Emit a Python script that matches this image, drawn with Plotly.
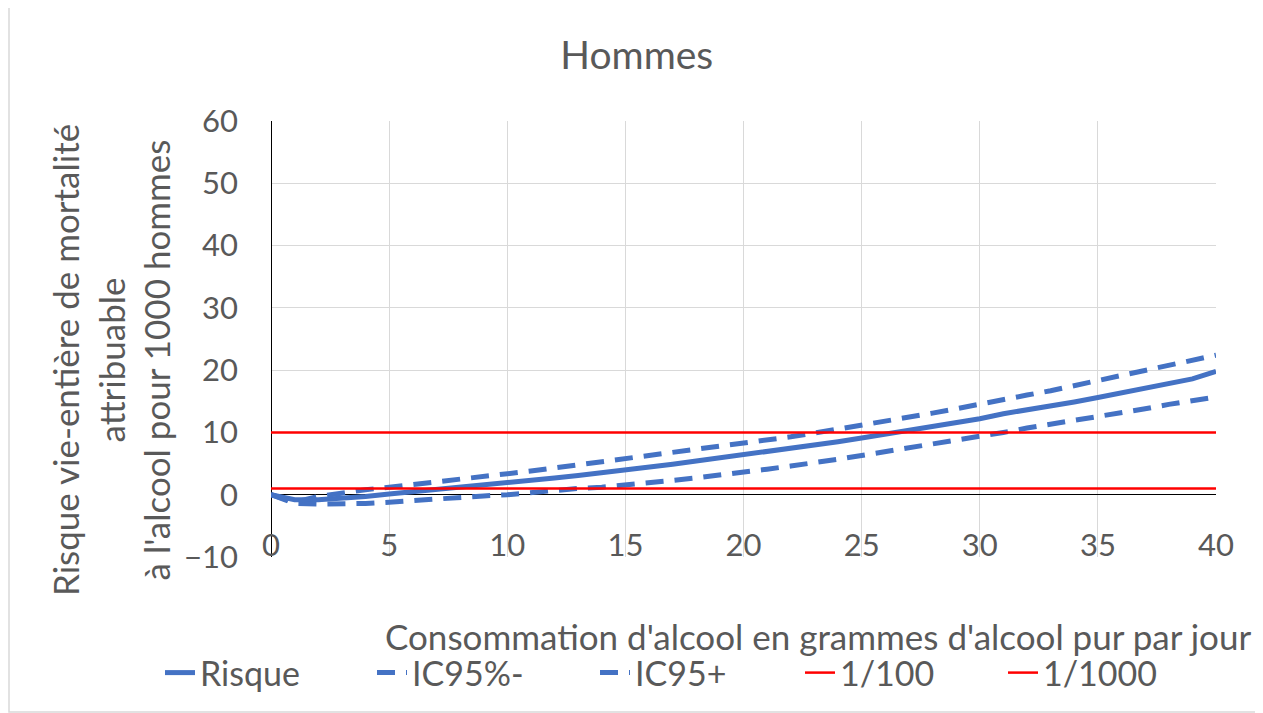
import plotly.graph_objects as go

# grammes d'alcool pur par jour
grammes = list(range(0, 41))

risque = [0.0, -0.8, -0.8, -0.6, -0.3, 0.1, 0.45, 0.8, 1.1, 1.5,
          1.9, 2.3, 2.7, 3.1, 3.5, 3.9, 4.4, 4.9, 5.4, 5.9,
          6.4, 6.9, 7.4, 8.0, 8.5, 9.1, 9.7, 10.3, 10.9, 11.5,
          12.2, 13.0, 13.6, 14.3, 14.9, 15.6, 16.3, 17.0, 17.8, 18.6,
          19.8]
ic95_moins = [0.0, -1.4, -1.5, -1.5, -1.4, -1.2, -0.9, -0.6, -0.4, -0.2,
              0.0, 0.4, 0.7, 1.0, 1.2, 1.5, 1.9, 2.3, 2.7, 3.1,
              3.6, 4.1, 4.6, 5.1, 5.7, 6.3, 6.9, 7.5, 8.1, 8.7,
              9.4, 10.0, 10.7, 11.3, 11.9, 12.4, 13.1, 13.8, 14.5, 15.1,
              15.7]
ic95_plus = [0.0, -1.2, -0.3, 0.3, 0.8, 1.2, 1.6, 2.0, 2.4, 2.9,
             3.4, 3.8, 4.3, 4.8, 5.2, 5.7, 6.2, 6.7, 7.2, 7.7,
             8.2, 8.8, 9.3, 9.9, 10.5, 11.2, 11.8, 12.5, 13.1, 13.8,
             14.6, 15.3, 16.0, 16.7, 17.5, 18.3, 19.0, 19.8, 20.6, 21.5,
             22.4]
seuil_100 = [10] * len(grammes)
seuil_1000 = [1] * len(grammes)

BLUE = "#4472C4"
RED = "#FF0000"
GREY = "#595959"
FONT = "Lato"

series = [
    ("Risque", risque, dict(color=BLUE, width=5)),
    ("IC95%-", ic95_moins, dict(color=BLUE, width=5, dash="18px,11px")),
    ("IC95+", ic95_plus, dict(color=BLUE, width=5, dash="18px,11px")),
    ("1/100", seuil_100, dict(color=RED, width=2.5)),
    ("1/1000", seuil_1000, dict(color=RED, width=2.5)),
]
# debut de chaque entree de legende (px page)
legend_x = [160, 372, 595, 800, 1003]

fig = go.Figure()
legends = {}
for i, (name, values, line) in enumerate(series):
    key = "legend" if i == 0 else "legend%d" % (i + 1)
    fig.add_trace(go.Scatter(x=grammes, y=values, mode="lines", name=name,
                             line=line, legend=key))
    legends[key] = dict(orientation="h", x=(legend_x[i] - 8) / 1255,
                        xref="container", xanchor="left",
                        y=(557 - 673) / 436, yanchor="middle",
                        font=dict(size=34, color=GREY),
                        bgcolor="rgba(0,0,0,0)")

# la page a une marge de 8 px : la figure commence en (8, 8)
fig.update_layout(
    width=1255,
    height=705,
    margin=dict(l=263, r=47, t=113, b=156, autoexpand=False),
    plot_bgcolor="white",
    paper_bgcolor="white",
    font=dict(family=FONT, color=GREY, size=34),
    title=dict(text="Hommes", x=0.501, xref="container", xanchor="center",
               y=1 - 47 / 705, yref="container", yanchor="middle",
               font=dict(size=39, color=GREY, family=FONT)),
    showlegend=True,
    xaxis=dict(range=[0, 40], dtick=5, showgrid=True, gridcolor="#D9D9D9",
               gridwidth=1, zeroline=True, zerolinecolor="black",
               zerolinewidth=1, ticks="", ticklabelposition="inside",
               ticklabeloverflow="allow", ticklabelstandoff=-8,
               showline=False, tickangle=0,
               tickfont=dict(size=31, color=GREY)),
    yaxis=dict(range=[-10, 60], dtick=10, showgrid=True, gridcolor="#D9D9D9",
               gridwidth=1, zeroline=True, zerolinecolor="black",
               zerolinewidth=1, ticks="", ticklabelstandoff=32,
               tickfont=dict(size=31, color=GREY)),
    annotations=[
        dict(text="Consommation d'alcool en grammes d'alcool pur par jour",
             x=(1253 - 271) / 945, y=(557 - 636) / 436, xref="paper",
             yref="paper", xanchor="right", yanchor="middle",
             showarrow=False, font=dict(size=35, color=GREY)),
        dict(text="Risque vie-entière de mortalité<br>attribuable<br>"
                  "à l'alcool pour 1000 hommes",
             x=(110 - 271) / 945, y=(557 - 360) / 436, xref="paper",
             yref="paper", xanchor="center", yanchor="middle",
             textangle=-90, showarrow=False, font=dict(size=35, color=GREY)),
    ],
    shapes=[
        dict(type="rect", xref="paper", yref="paper",
             x0=(9 - 271) / 945, x1=(1257 - 271) / 945,
             y0=(557 - 712) / 436, y1=(557 - 7) / 436,
             line=dict(color="#D9D9D9", width=1.5), layer="below"),
    ],
    **legends,
)

fig.write_html("out.html")
